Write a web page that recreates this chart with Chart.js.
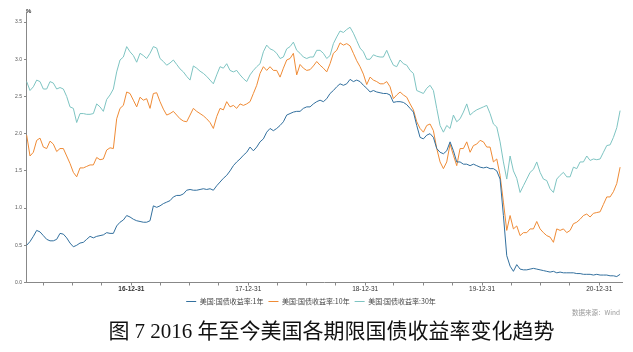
<!DOCTYPE html>
<html>
<head>
<meta charset="utf-8">
<script src="https://cdn.jsdelivr.net/npm/chart.js@4"></script>
<style>
  body { margin: 0; background: #fff; width: 633px; height: 352px; overflow: hidden; position: relative; }
  #grafico { position: absolute; left: 0; top: 0; }
  #pct { position: absolute; left: 26px; top: 8px; font: bold 6px "Liberation Sans", sans-serif; color: #333; }
  #fuente { position: absolute; right: 13px; top: 307px; font: 6.5px "Noto Sans CJK SC", sans-serif; color: #999; }
  #titulo { position: absolute; left: 15px; width: 633px; top: 314px; text-align: center;
            font: 21px "Liberation Serif", "Noto Sans CJK SC", serif; color: #111; white-space: nowrap; }
</style>
</head>
<body>
<canvas id="grafico" width="633" height="315"></canvas>
<div id="pct">%</div>
<div id="fuente">数据来源：Wind</div>
<div id="titulo">图 7 2016 年至今美国各期限国债收益率变化趋势</div>
<script>
// Datos (lecturas aproximadas, una cada ~10 días desde feb-2016)
const nombres = ["美国:国债收益率:1年", "美国:国债收益率:10年", "美国:国债收益率:30年"];
const etiquetasX = ["16-12-31", "17-12-31", "18-12-31", "19-12-31", "20-12-31"];
const ticksY = [0, 0.5, 1, 1.5, 2, 2.5, 3, 3.5];

const tasa1 = [
  0.50, 0.55, 0.62, 0.70, 0.68, 0.63, 0.58, 0.56, 0.56, 0.58, 0.66, 0.65, 0.60, 0.53, 0.48, 0.50, 0.53, 0.54, 0.58, 0.62, 0.60, 0.62, 0.63, 0.64, 0.67, 0.66, 0.66, 0.76,
  0.81, 0.84, 0.90, 0.88, 0.85, 0.83, 0.82, 0.81, 0.81, 0.83, 1.03, 1.01, 1.03, 1.06, 1.08, 1.10, 1.15, 1.17, 1.17, 1.19, 1.24, 1.25, 1.24, 1.24, 1.25, 1.26, 1.25, 1.26, 1.24, 1.30,
  1.35, 1.40, 1.44, 1.50, 1.57, 1.62, 1.66, 1.71, 1.75, 1.82, 1.77, 1.82, 1.89, 1.93, 2.02, 2.07, 2.04, 2.07, 2.11, 2.16, 2.25, 2.27, 2.29, 2.30, 2.30, 2.34, 2.36, 2.36, 2.40, 2.43,
  2.45, 2.43, 2.47, 2.54, 2.58, 2.63, 2.67, 2.65, 2.67, 2.73, 2.70, 2.72, 2.70, 2.65, 2.61, 2.56, 2.58, 2.56, 2.55, 2.54, 2.54, 2.52, 2.42, 2.43, 2.43, 2.42, 2.39, 2.34, 2.29, 2.11,
  1.95, 1.93, 1.98, 2.00, 1.95, 1.80, 1.75, 1.73, 1.77, 1.89, 1.77, 1.62, 1.62, 1.59, 1.59, 1.57, 1.59, 1.57, 1.55, 1.54, 1.55, 1.53, 1.53, 1.50, 1.39, 0.90, 0.36, 0.22, 0.15, 0.24,
  0.18, 0.17, 0.17, 0.18, 0.19, 0.18, 0.17, 0.16, 0.15, 0.14, 0.15, 0.13, 0.14, 0.13, 0.13, 0.13, 0.13, 0.12, 0.12, 0.11, 0.11, 0.11, 0.10, 0.11, 0.10, 0.10, 0.10, 0.09, 0.09, 0.08, 0.11
];
const tasa10 = [
  1.98, 1.70, 1.75, 1.91, 1.94, 1.82, 1.80, 1.90, 1.86, 1.76, 1.80, 1.80, 1.70, 1.60, 1.48, 1.42, 1.54, 1.54, 1.56, 1.58, 1.58, 1.68, 1.65, 1.66, 1.78, 1.81, 1.80, 2.20,
  2.34, 2.38, 2.56, 2.54, 2.45, 2.36, 2.49, 2.45, 2.47, 2.34, 2.54, 2.55, 2.43, 2.33, 2.25, 2.27, 2.30, 2.25, 2.20, 2.17, 2.16, 2.25, 2.34, 2.30, 2.27, 2.24, 2.20, 2.15, 2.07, 2.23,
  2.34, 2.32, 2.43, 2.36, 2.38, 2.34, 2.40, 2.38, 2.40, 2.43, 2.54, 2.65, 2.81, 2.90, 2.85, 2.90, 2.85, 2.85, 2.76, 2.88, 2.99, 3.01, 3.08, 2.79, 2.93, 2.88, 2.85, 2.86, 2.91, 2.97,
  2.92, 2.88, 2.83, 2.94, 3.08, 3.12, 3.22, 3.19, 3.21, 3.18, 3.08, 2.98, 2.90, 2.80, 2.66, 2.76, 2.72, 2.70, 2.67, 2.67, 2.70, 2.63, 2.47, 2.52, 2.56, 2.52, 2.49, 2.40, 2.32, 2.16,
  2.07, 2.02, 2.11, 2.13, 2.04, 1.80, 1.62, 1.53, 1.62, 1.86, 1.71, 1.57, 1.80, 1.80, 1.89, 1.75, 1.84, 1.86, 1.91, 1.89, 1.82, 1.82, 1.62, 1.66, 1.44, 1.08, 0.70, 0.90, 0.72, 0.76,
  0.63, 0.67, 0.67, 0.72, 0.72, 0.82, 0.72, 0.67, 0.63, 0.61, 0.54, 0.72, 0.70, 0.72, 0.67, 0.70, 0.79, 0.81, 0.85, 0.90, 0.92, 0.88, 0.93, 0.94, 0.95, 1.05, 1.15, 1.15, 1.22, 1.33, 1.55
];
const tasa30 = [
  2.70, 2.58, 2.63, 2.72, 2.70, 2.60, 2.60, 2.70, 2.68, 2.60, 2.62, 2.60, 2.50, 2.36, 2.34, 2.15, 2.27, 2.27, 2.26, 2.26, 2.27, 2.40, 2.36, 2.30, 2.46, 2.52, 2.60, 2.83,
  2.99, 3.03, 3.17, 3.10, 3.05, 2.96, 3.08, 3.05, 3.01, 3.08, 3.17, 3.15, 3.01, 2.97, 2.92, 2.95, 2.99, 2.93, 2.87, 2.83, 2.77, 2.72, 2.91, 2.88, 2.84, 2.81, 2.77, 2.72, 2.67, 2.79,
  2.90, 2.88, 2.94, 2.85, 2.83, 2.85, 2.79, 2.74, 2.70, 2.79, 2.85, 2.90, 2.94, 3.10, 3.19, 3.14, 3.12, 3.08, 3.01, 3.03, 3.14, 3.17, 3.23, 3.12, 3.08, 3.03, 3.01, 3.03, 3.03, 3.12,
  3.12, 3.08, 3.01, 3.05, 3.21, 3.30, 3.38, 3.36, 3.40, 3.43, 3.35, 3.25, 3.15, 3.10, 3.00, 3.00, 3.06, 3.04, 3.03, 3.03, 3.12, 3.01, 2.92, 2.90, 2.99, 2.94, 2.92, 2.85, 2.81, 2.58,
  2.56, 2.54, 2.61, 2.65, 2.58, 2.34, 2.11, 2.02, 2.11, 2.07, 2.25, 2.16, 2.20, 2.29, 2.40, 2.25, 2.29, 2.32, 2.34, 2.36, 2.38, 2.27, 2.13, 2.09, 1.89, 1.62, 1.39, 1.70, 1.50, 1.40,
  1.21, 1.30, 1.39, 1.48, 1.52, 1.62, 1.48, 1.39, 1.37, 1.26, 1.21, 1.39, 1.44, 1.48, 1.42, 1.42, 1.55, 1.53, 1.62, 1.62, 1.70, 1.64, 1.66, 1.65, 1.66, 1.75, 1.84, 1.85, 1.95, 2.08, 2.31
];
const colores = ["#33709e", "#ef8b36", "#7ec4c2"];

// Eje X en días desde el 2016-02-06
const inicio = Date.UTC(2016, 1, 6);
const dia = (a, m, d) => (Date.UTC(a, m - 1, d) - inicio) / 864e5;
const primerDia = 2.1;
const paso = 10.41;
const ultimoDia = 1861;
const puntos = (arr) => arr.map((v, i) => ({ x: primerDia + i * paso, y: v }));

// marcas trimestrales, con texto solo a fin de año
const trimestres = [];
for (let a = 2016; a <= 2021; a++) {
  for (const [m, d] of [[3, 31], [6, 30], [9, 30], [12, 31]]) {
    const t = dia(a, m, d);
    if (t > 0 && t < ultimoDia) trimestres.push(t);
  }
}
const finDeAnio = etiquetasX.map((s) => dia(2000 + Number(s.slice(0, 2)), 12, 31));

const ctx = document.getElementById("grafico");
new Chart(ctx, {
  type: "line",
  data: {
    datasets: [tasa1, tasa10, tasa30].map((arr, k) => ({
      label: nombres[k],
      data: puntos(arr),
      borderColor: colores[k],
      backgroundColor: colores[k],
      borderWidth: 1,
      pointRadius: 0,
      tension: 0,
    })),
  },
  options: {
    responsive: false,
    animation: false,
    layout: { padding: { top: 12, right: 11, left: 0, bottom: 0 } },
    plugins: {
      tooltip: { enabled: false },
      legend: {
        position: "bottom",
        labels: {
          usePointStyle: true,
          pointStyle: "line",
          pointStyleWidth: 10,
          boxHeight: 7,
          padding: 5,
          color: "#444",
          font: { size: 7, family: "'Noto Sans CJK SC', sans-serif" },
        },
      },
    },
    scales: {
      x: {
        type: "linear",
        min: 0,
        max: ultimoDia,
        afterBuildTicks: (s) => { s.ticks = trimestres.map((t) => ({ value: t })); },
        afterFit: (s) => { s.height = 10.5; },
        border: { color: "#888", width: 1 },
        grid: { drawOnChartArea: false, drawTicks: true, tickLength: 3, color: "#888" },
        ticks: {
          autoSkip: false,
          maxRotation: 0,
          padding: 0,
          color: "#333",
          font: (c) => ({
            size: 6.5,
            family: "'Liberation Sans', sans-serif",
            weight: c.tick && c.tick.label === etiquetasX[0] ? "bold" : "normal",
          }),
          callback: (v) => {
            const k = finDeAnio.findIndex((t) => Math.abs(t - v) < 0.5);
            return k >= 0 ? etiquetasX[k] : "";
          },
        },
      },
      y: {
        min: 0,
        max: 3.635,
        afterBuildTicks: (s) => { s.ticks = ticksY.map((v) => ({ value: v })); },
        afterFit: (s) => { s.width = 26; },
        border: { color: "#888", width: 1 },
        grid: { drawOnChartArea: false, drawTicks: true, tickLength: 2, color: "#888" },
        ticks: {
          padding: 2,
          color: "#555",
          font: { size: 5, family: "'Liberation Sans', sans-serif" },
          callback: (v) => v.toFixed(1),
        },
      },
    },
  },
});
</script>
</body>
</html>
